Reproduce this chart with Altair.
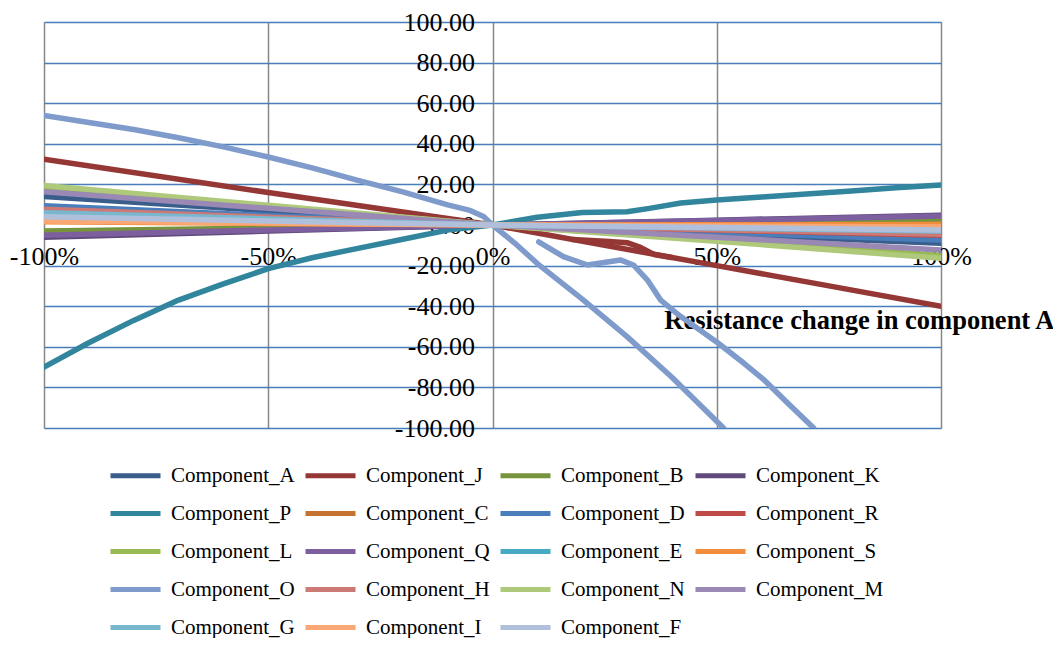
import altair as alt
import pandas as pd

# series order (as in the source chart's legend, row by row)
NAMES = ["Component_A", "Component_J", "Component_B", "Component_K", "Component_P",
         "Component_C", "Component_D", "Component_R", "Component_L", "Component_Q",
         "Component_E", "Component_S", "Component_O", "Component_H", "Component_N",
         "Component_M", "Component_G", "Component_I", "Component_F"]
COLORS = ["#3A5E8C", "#953735", "#77933C", "#604A7B", "#31859C",
          "#C77330", "#4A7EBB", "#BE4B48", "#98B954", "#7D5FA0",
          "#46AAC5", "#F08C3C", "#7E9BCB", "#CD7A77", "#AFC97A",
          "#9A88B5", "#78B8CF", "#F9A875", "#B0C0DC"]

# x values (% resistance change) shared by the near-linear components
XS = [-100, -50, 0, 50, 100]
A = [14, 7, 0, -4.5, -9]
B = [-3, -1.5, 0, 1, 2.1]
K = [-6, -3, 0, 2.4, 4.8]
C = [2.5, 1.2, 0, -0.6, -1.2]
D = [9.5, 4.7, 0, -3.7, -7.4]
R = [6.5, 3.2, 0, -2.5, -5]
L = [18, 9, 0, -7.5, -15]
Q = [-5, -2.5, 0, 2.2, 4.4]
E = [5.5, 2.7, 0, -1.8, -3.5]
S = [1.6, 0.8, 0, 0.1, 0.3]
H = [7.7, 3.8, 0, -2.3, -4.6]
N = [19.5, 9.7, 0, -8, -16.4]
M = [16.4, 8.2, 0, -6, -12.3]
G = [6, 3, 0, -1.5, -3]
I = [2, 1, 0, -0.5, -1]
F = [4.1, 2, 0, -1.2, -2.5]

XJ = [-100, -50, 0, 25, 50, 75, 100]
J = [32.4, 16, 0, -10, -20, -30, -40]
XJ2 = [18, 22, 26, 30, 33, 36, 40]
J2 = [-7.2, -7.6, -8.1, -8.7, -11, -14.5, -16]

XP = [-100, -90, -80, -70, -60, -50, -40, -30, -20, -10, 0, 10, 20, 30, 35, 42, 50, 60, 70, 80, 90, 100]
P = [-70, -58, -47, -37, -29, -21.5, -16, -11.5, -7, -2.5, 0, 3.8, 6.2, 6.5, 8.2, 10.8, 12.3, 13.8, 15.3, 16.8, 18.3, 19.7]

XO = [-100, -90, -80, -70, -60, -50, -40, -30, -20, -10, -5, -2, 0, 5, 10, 20, 30, 40, 51.5]
O = [54, 50.5, 47, 43, 38.5, 33.5, 28, 22, 16.3, 9.9, 7.2, 4.2, 0, -9, -19, -36.5, -55, -75, -100]
XO2 = [10.3, 15.8, 21.2, 25.6, 28.5, 31.4, 34.5, 37.5, 41.9, 50.2, 56, 60.4, 65.8, 71.6]
O2 = [-8.3, -15.6, -19.7, -18.2, -17.2, -19.7, -27, -37, -45, -58, -68, -76, -87.7, -100]

series = [
    ("Component_A", 0, XS, A), ("Component_J", 0, XJ, J), ("Component_J", 1, XJ2, J2),
    ("Component_B", 0, XS, B), ("Component_K", 0, XS, K), ("Component_P", 0, XP, P),
    ("Component_C", 0, XS, C), ("Component_D", 0, XS, D), ("Component_R", 0, XS, R),
    ("Component_L", 0, XS, L), ("Component_Q", 0, XS, Q), ("Component_E", 0, XS, E),
    ("Component_S", 0, XS, S), ("Component_O", 0, XO, O), ("Component_O", 1, XO2, O2),
    ("Component_H", 0, XS, H), ("Component_N", 0, XS, N), ("Component_M", 0, XS, M),
    ("Component_G", 0, XS, G), ("Component_I", 0, XS, I), ("Component_F", 0, XS, F),
]
rows = []
for name, seg, xs, ys in series:
    for x, y in zip(xs, ys):
        rows.append({"component": name, "seg": f"{name}_{seg}", "x": x, "y": y})
df = pd.DataFrame(rows)

# Vega fills legend columns first: reorder so the legend reads row by row
NCOL = 4
NROW = -(-len(NAMES) // NCOL)
leg_order = []
for c in range(NCOL):
    for r in range(NROW):
        i = r * NCOL + c
        if i < len(NAMES):
            leg_order.append(i)
DOMAIN = [NAMES[i] for i in leg_order]
RANGE = [COLORS[i] for i in leg_order]

FONT = "Liberation Serif"
W, H = 897, 406

chart = alt.Chart(df).mark_line(strokeWidth=5.5, clip=True, strokeCap="round",
                                 strokeJoin="round").encode(
    x=alt.X("x:Q", scale=alt.Scale(domain=[-100, 100], nice=False),
            axis=alt.Axis(values=[-100, -50, 0, 50, 100],
                          labelExpr="datum.value + '%'",
                          offset=-H / 2, domain=False, ticks=False,
                          labelPadding=18, labelFontSize=26, labelFont=FONT,
                          labelColor="black", labelFlush=False, labelOverlap=False,
                          gridColor="#878787", gridWidth=1.5,
                          title="Resistance change in component A",
                          titleFont=FONT, titleFontSize=26.5, titleFontWeight="bold",
                          titleColor="black", titleAlign="right",
                          titleBaseline="middle", titleX=1010, titleY=95,
                          titleAnchor="end")),
    y=alt.Y("y:Q", scale=alt.Scale(domain=[-100, 100], nice=False),
            axis=alt.Axis(values=list(range(-100, 101, 20)),
                          labelExpr="(datum.value < 0 ? '-' : '') + format(abs(datum.value), '.2f')",
                          offset=-W / 2, domain=False, ticks=False,
                          labelPadding=18, labelFontSize=26, labelFont=FONT,
                          labelColor="black", labelFlush=False, labelOverlap=False,
                          gridColor="#4A7EBB", gridWidth=1.5,
                          gridOpacity={"condition": {"test": "datum.value === 0", "value": 0}, "value": 1},
                          title=None)),
    color=alt.Color("component:N", scale=alt.Scale(domain=DOMAIN, range=RANGE),
                    legend=alt.Legend(orient="none", legendX=64, legendY=426,
                                      columns=NCOL, title=None, symbolType="stroke",
                                      symbolSize=2500, symbolStrokeWidth=5,
                                      labelFont=FONT, labelFontSize=21,
                                      labelColor="black", labelOffset=8,
                                      columnPadding=-4, rowPadding=-1,
                                      gridAlign="all", padding=0,
                                      labelLimit=300)),
    detail="seg:N",
).properties(
    width=W, height=H,
    autosize=alt.AutoSizeParams(type="none"),
    padding={"left": 36, "top": 14, "right": 112, "bottom": 210},
).configure_view(stroke=None)

chart.save("out.html", embed_options={"renderer": "svg", "actions": False})
